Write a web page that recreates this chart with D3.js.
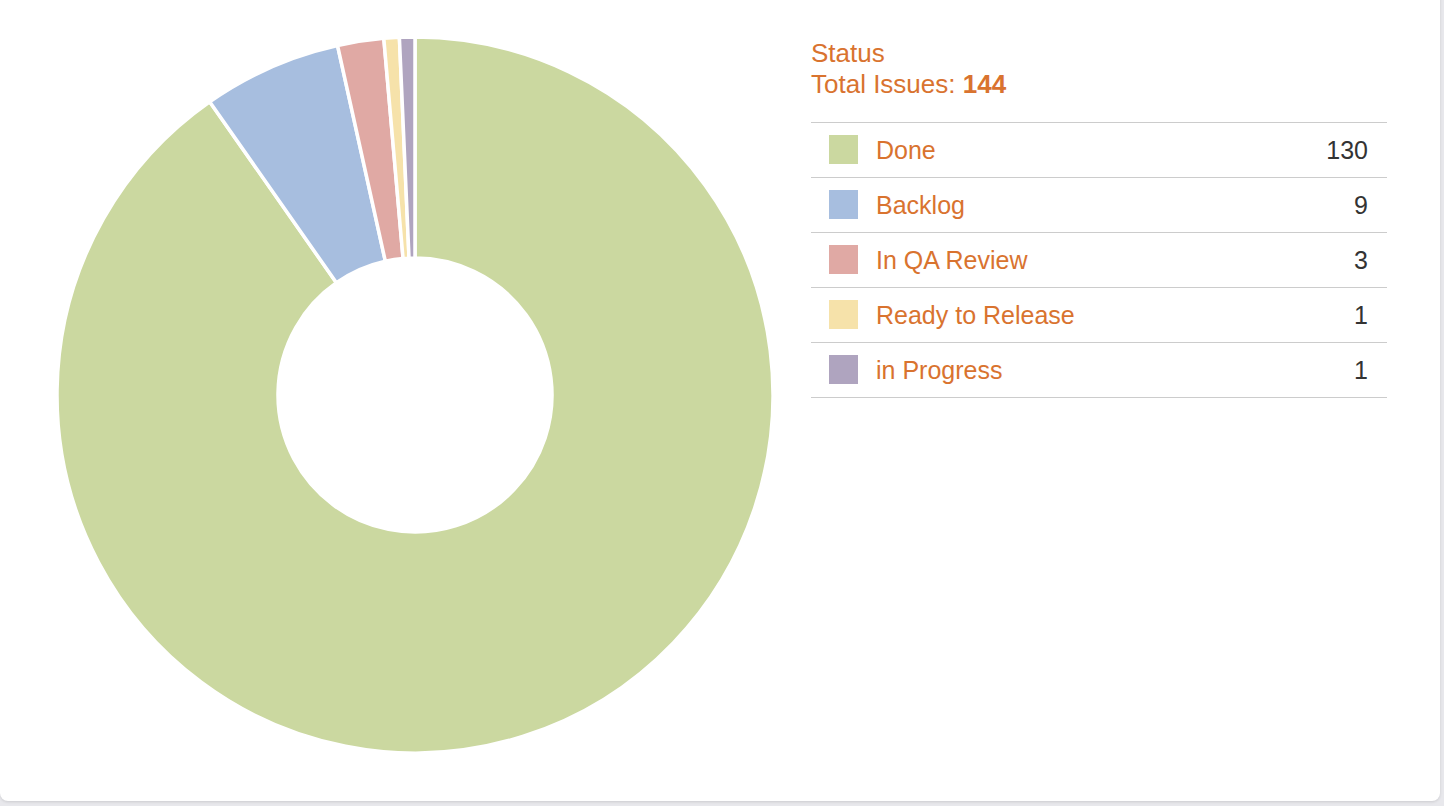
<!DOCTYPE html>
<html>
<head>
<meta charset="utf-8">
<script src="https://cdn.jsdelivr.net/npm/d3@7/dist/d3.min.js"></script>
<style>
  html, body { margin: 0; padding: 0; background: #e8e8ec; width: 1444px; height: 806px; overflow: hidden; }
  #card { position: absolute; left: 0; top: -20px; width: 1440px; height: 821px; background: #fff;
          border-radius: 8px; box-shadow: 0 1px 3px rgba(0,0,0,0.12); }
  svg { position: absolute; left: 0; top: 0; }
</style>
</head>
<body>
<div id="card"></div>
<svg id="chart" width="1444" height="806"></svg>
<script>
const categories = ["Done", "Backlog", "In QA Review", "Ready to Release", "in Progress"];
const values = [130, 9, 3, 1, 1];
const colors = ["#cbd8a0", "#a7bedf", "#e0a9a4", "#f6e2aa", "#afa4bf"];
const title = "Status";
const totalLabel = "Total Issues: ";

const svg = d3.select("#chart");
const font = "'Liberation Sans', Arial, sans-serif";
const textColor = "#d9732f";

const data = categories.map((c, i) => ({ name: c, value: values[i], color: colors[i] }));
const total = d3.sum(values);

const cx = 415, cy = 395, outerR = 358, innerR = 137;
const pie = d3.pie().value(d => d.value).sort(null).startAngle(0).endAngle(2 * Math.PI);
const arc = d3.arc().innerRadius(innerR).outerRadius(outerR);

svg.append("g").attr("transform", `translate(${cx},${cy})`)
  .selectAll("path").data(pie(data)).join("path")
  .attr("d", arc)
  .attr("fill", d => d.data.color)
  .attr("stroke", "#fff")
  .attr("stroke-width", 3.5)
  .attr("stroke-linejoin", "miter");

// Legend
const lx = 811, lw = 576;
const lg = svg.append("g").attr("font-family", font);
lg.append("text").attr("x", lx).attr("y", 62).attr("font-size", 26).attr("fill", textColor).text(title);
const t2 = lg.append("text").attr("x", lx).attr("y", 93).attr("font-size", 26).attr("fill", textColor);
t2.append("tspan").text(totalLabel);
t2.append("tspan").attr("font-weight", "bold").text(total);

const rowY = d3.scaleBand().domain(categories).range([122, 122 + 55 * categories.length]);
lg.append("line").attr("x1", lx).attr("x2", lx + lw).attr("y1", 122.5).attr("y2", 122.5)
  .attr("stroke", "#cccccc").attr("stroke-width", 1);
const rows = lg.selectAll("g.row").data(data).join("g").attr("class", "row")
  .attr("transform", d => `translate(0,${rowY(d.name)})`);
rows.append("rect").attr("x", 829).attr("y", 13).attr("width", 29).attr("height", 29).attr("fill", d => d.color);
rows.append("text").attr("x", 876).attr("y", 37).attr("font-size", 25).attr("fill", textColor).text(d => d.name);
rows.append("text").attr("x", 1368).attr("y", 37).attr("font-size", 25).attr("fill", "#333")
  .attr("text-anchor", "end").text(d => d.value);
rows.append("line").attr("x1", lx).attr("x2", lx + lw).attr("y1", 55.5).attr("y2", 55.5)
  .attr("stroke", "#cccccc").attr("stroke-width", 1);
</script>
</body>
</html>
